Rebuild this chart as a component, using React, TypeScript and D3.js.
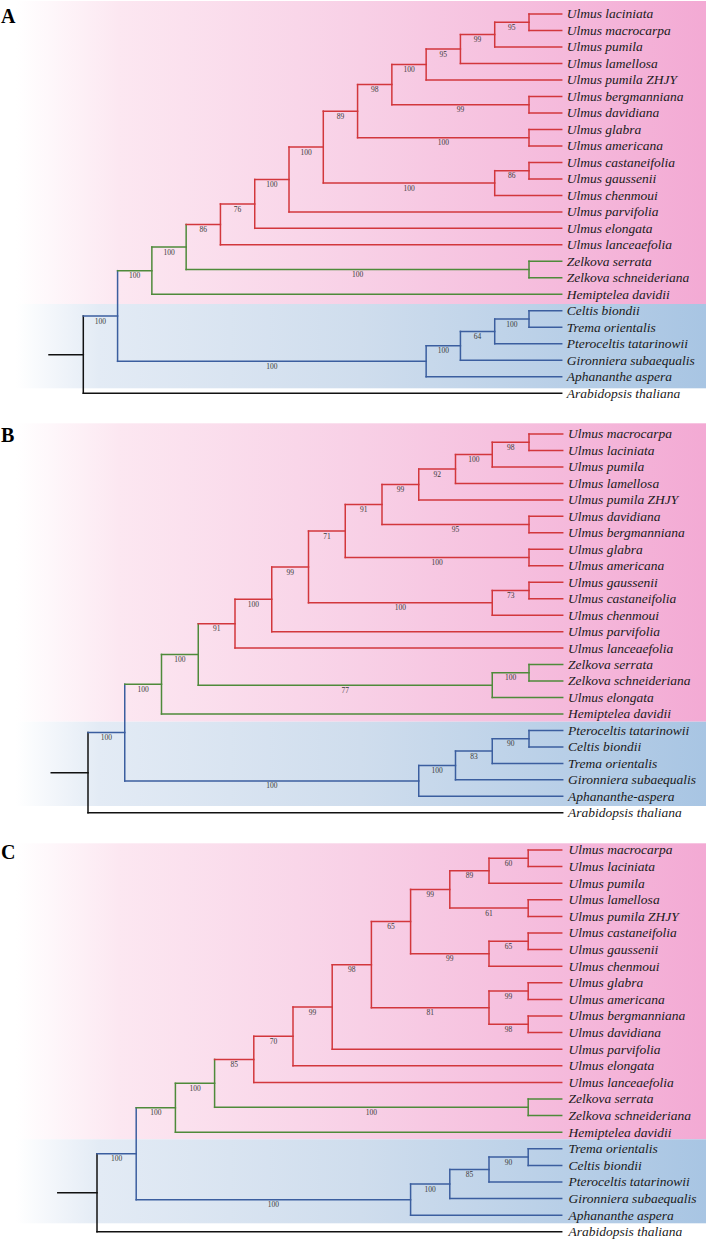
import React from "react";
import * as d3 from "d3";

type Clade = [string, string, string, number | null];

// Each clade: [id, child 1, child 2, bootstrap support]. Leaves are species names.
const cladesA: Clade[] = [
  ["a1", "Ulmus laciniata", "Ulmus macrocarpa", 95],
  ["a2", "a1", "Ulmus pumila", 99],
  ["a3", "a2", "Ulmus lamellosa", 95],
  ["a4", "a3", "Ulmus pumila ZHJY", 100],
  ["a5", "Ulmus bergmanniana", "Ulmus davidiana", 99],
  ["a6", "a4", "a5", 98],
  ["a7", "Ulmus glabra", "Ulmus americana", 100],
  ["a8", "a6", "a7", 89],
  ["a9", "Ulmus castaneifolia", "Ulmus gaussenii", 86],
  ["a10", "a9", "Ulmus chenmoui", 100],
  ["a11", "a8", "a10", 100],
  ["a12", "a11", "Ulmus parvifolia", 100],
  ["a13", "a12", "Ulmus elongata", 76],
  ["a14", "a13", "Ulmus lanceaefolia", 86],
  ["a15", "Zelkova serrata", "Zelkova schneideriana", 100],
  ["a16", "a14", "a15", 100],
  ["a17", "a16", "Hemiptelea davidii", 100],
  ["a18", "Celtis biondii", "Trema orientalis", 100],
  ["a19", "a18", "Pteroceltis tatarinowii", 64],
  ["a20", "a19", "Gironniera subaequalis", 100],
  ["a21", "a20", "Aphananthe aspera", 100],
  ["a22", "a17", "a21", 100],
  ["a23", "a22", "Arabidopsis thaliana", null],
];

const cladesB: Clade[] = [
  ["b1", "Ulmus macrocarpa", "Ulmus laciniata", 98],
  ["b2", "b1", "Ulmus pumila", 100],
  ["b3", "b2", "Ulmus lamellosa", 92],
  ["b4", "b3", "Ulmus pumila ZHJY", 99],
  ["b5", "Ulmus davidiana", "Ulmus bergmanniana", 95],
  ["b6", "b4", "b5", 91],
  ["b7", "Ulmus glabra", "Ulmus americana", 100],
  ["b8", "b6", "b7", 71],
  ["b9", "Ulmus gaussenii", "Ulmus castaneifolia", 73],
  ["b10", "b9", "Ulmus chenmoui", 100],
  ["b11", "b8", "b10", 99],
  ["b12", "b11", "Ulmus parvifolia", 100],
  ["b13", "b12", "Ulmus lanceaefolia", 91],
  ["b14", "Zelkova serrata", "Zelkova schneideriana", 100],
  ["b15", "b14", "Ulmus elongata", 77],
  ["b16", "b13", "b15", 100],
  ["b17", "b16", "Hemiptelea davidii", 100],
  ["b18", "Pteroceltis tatarinowii", "Celtis biondii", 90],
  ["b19", "b18", "Trema orientalis", 83],
  ["b20", "b19", "Gironniera subaequalis", 100],
  ["b21", "b20", "Aphananthe-aspera", 100],
  ["b22", "b17", "b21", 100],
  ["b23", "b22", "Arabidopsis thaliana", null],
];

const cladesC: Clade[] = [
  ["c1", "Ulmus macrocarpa", "Ulmus laciniata", 60],
  ["c2", "c1", "Ulmus pumila", 89],
  ["c3", "Ulmus lamellosa", "Ulmus pumila ZHJY", 61],
  ["c4", "c2", "c3", 99],
  ["c5", "Ulmus castaneifolia", "Ulmus gaussenii", 65],
  ["c6", "c5", "Ulmus chenmoui", 99],
  ["c7", "c4", "c6", 65],
  ["c8", "Ulmus glabra", "Ulmus americana", 99],
  ["c9", "Ulmus bergmanniana", "Ulmus davidiana", 98],
  ["c10", "c8", "c9", 81],
  ["c11", "c7", "c10", 98],
  ["c12", "c11", "Ulmus parvifolia", 99],
  ["c13", "c12", "Ulmus elongata", 70],
  ["c14", "c13", "Ulmus lanceaefolia", 85],
  ["c15", "Zelkova serrata", "Zelkova schneideriana", 100],
  ["c16", "c14", "c15", 100],
  ["c17", "c16", "Hemiptelea davidii", 100],
  ["c18", "Trema orientalis", "Celtis biondii", 90],
  ["c19", "c18", "Pteroceltis tatarinowii", 85],
  ["c20", "c19", "Gironniera subaequalis", 100],
  ["c21", "c20", "Aphananthe aspera", 100],
  ["c22", "c17", "c21", 100],
  ["c23", "c22", "Arabidopsis thaliana", null],
];

const panelLetters = ["A", "B", "C"];

// layout (positions only)
const layouts = [
  { letterY: 22.7, pinkTop: 1, split: 304, blueBottom: 388.3, y0: 14, dy: 16.49, rootX: 83.3, pairX: 529, leafX: 561.7, textX: 566.7 },
  { letterY: 441.7, pinkTop: 423.3, split: 721.7, blueBottom: 806, y0: 434, dy: 16.47, rootX: 88, pairX: 529, leafX: 562.7, textX: 568 },
  { letterY: 859, pinkTop: 843.3, split: 1139.3, blueBottom: 1223.3, y0: 850, dy: 16.6, rootX: 97, pairX: 528.2, leafX: 561.7, textX: 568.5 },
];

const COLORS = { black: "#111111", blue: "#3b5e9f", green: "#4e8a3a", red: "#d2373c" };

type TNode = { name: string; support: number | null; children?: TNode[] };

function buildTree(clades: Clade[]): TNode {
  const map = new Map<string, TNode>();
  const get = (n: string): TNode => map.get(n) || { name: n, support: null };
  for (const [id, c1, c2, s] of clades) {
    map.set(id, { name: id, support: s, children: [get(c1), get(c2)] });
  }
  return map.get(clades[clades.length - 1][0])!;
}

function Tree({ clades, lay, letter, idx }: { clades: Clade[]; lay: any; letter: string; idx: number }) {
  const root = d3.hierarchy<TNode>(buildTree(clades));
  const xs = d3.scaleLinear().domain([0, root.height - 1]).range([lay.rootX, lay.pairX]);
  const step = xs(1) - xs(0);
  const leaves = root.leaves();
  const ys = d3.scaleLinear().domain([0, leaves.length - 1]).range([lay.y0, lay.y0 + lay.dy * (leaves.length - 1)]);
  const pos = new Map<any, { x: number; y: number; color: string }>();
  leaves.forEach((l, i) => pos.set(l, { x: lay.leafX, y: ys(i), color: COLORS.black }));
  root.eachAfter((n) => {
    if (n.children) {
      const a = pos.get(n.children[0])!;
      const b = pos.get(n.children[n.children.length - 1])!;
      pos.set(n, { x: xs(root.height - n.height), y: (a.y + b.y) / 2, color: COLORS.black });
    }
  });
  // colouring of clades: ingroup blue, Ulmaceae green, core Ulmus red
  const paint = (n: d3.HierarchyNode<TNode>, c: string) => n.each((d) => (pos.get(d)!.color = c));
  const ingroup = root.children![0];
  paint(ingroup, COLORS.blue);
  const ulm = ingroup.children![0];
  paint(ulm, COLORS.green);
  paint(ulm.children![0].children![0], COLORS.red);

  const segs: JSX.Element[] = [];
  const labels: JSX.Element[] = [];
  const rp = pos.get(root)!;
  segs.push(<line key="stub" x1={rp.x - step} x2={rp.x} y1={rp.y} y2={rp.y} stroke={COLORS.black} />);
  let k = 0;
  root.each((n) => {
    const p = pos.get(n)!;
    if (n.children) {
      const a = pos.get(n.children[0])!;
      const b = pos.get(n.children[n.children.length - 1])!;
      segs.push(<line key={"v" + k++} x1={p.x} x2={p.x} y1={a.y} y2={b.y} stroke={p.color} />);
    }
    if (n.parent) {
      const pp = pos.get(n.parent)!;
      segs.push(<line key={"h" + k++} x1={pp.x} x2={p.x} y1={p.y} y2={p.y} stroke={p.color} />);
      if (n.data.support != null) {
        labels.push(
          <text key={"s" + k++} x={(pp.x + p.x) / 2} y={p.y + 7.6} textAnchor="middle" fontSize={7.5} fill="#3a3a3a">
            {n.data.support}
          </text>
        );
      }
    }
  });

  return (
    <g>
      <rect x={16} y={lay.pinkTop} width={690} height={lay.split - lay.pinkTop} fill="url(#pinkGrad)" />
      <rect x={16} y={lay.split} width={690} height={lay.blueBottom - lay.split} fill="url(#blueGrad)" />
      <text x={1} y={lay.letterY} fontSize={20} fontWeight="bold" fill="#000">{letter}</text>
      <g strokeWidth={1.5} strokeLinecap="square">{segs}</g>
      {labels}
      {leaves.map((l, i) => (
        <text key={"t" + i} x={lay.textX} y={ys(i) + 4.4} fontSize={13.5} fontStyle="italic" fill="#1a1a1a">
          {l.data.name}
        </text>
      ))}
    </g>
  );
}

export default function App() {
  const panels = [cladesA, cladesB, cladesC];
  return (
    <svg width={707} height={1240} style={{ position: "absolute", left: 0, top: 0, display: "block" }} fontFamily="'Liberation Serif', 'Times New Roman', serif">
      <defs>
        <linearGradient id="pinkGrad" x1="0" x2="1" y1="0" y2="0">
          <stop offset="0%" stopColor="#ffffff" />
          <stop offset="15%" stopColor="#fce7f1" />
          <stop offset="50%" stopColor="#f8d0e6" />
          <stop offset="100%" stopColor="#f3aad4" />
        </linearGradient>
        <linearGradient id="blueGrad" x1="0" x2="1" y1="0" y2="0">
          <stop offset="0%" stopColor="#ffffff" />
          <stop offset="12%" stopColor="#e3ebf5" />
          <stop offset="50%" stopColor="#cfdded" />
          <stop offset="100%" stopColor="#a8c5e3" />
        </linearGradient>
      </defs>
      <rect x={0} y={0} width={707} height={1240} fill="#ffffff" />
      {panels.map((c, i) => (
        <Tree key={i} clades={c} lay={layouts[i]} letter={panelLetters[i]} idx={i} />
      ))}
    </svg>
  );
}
